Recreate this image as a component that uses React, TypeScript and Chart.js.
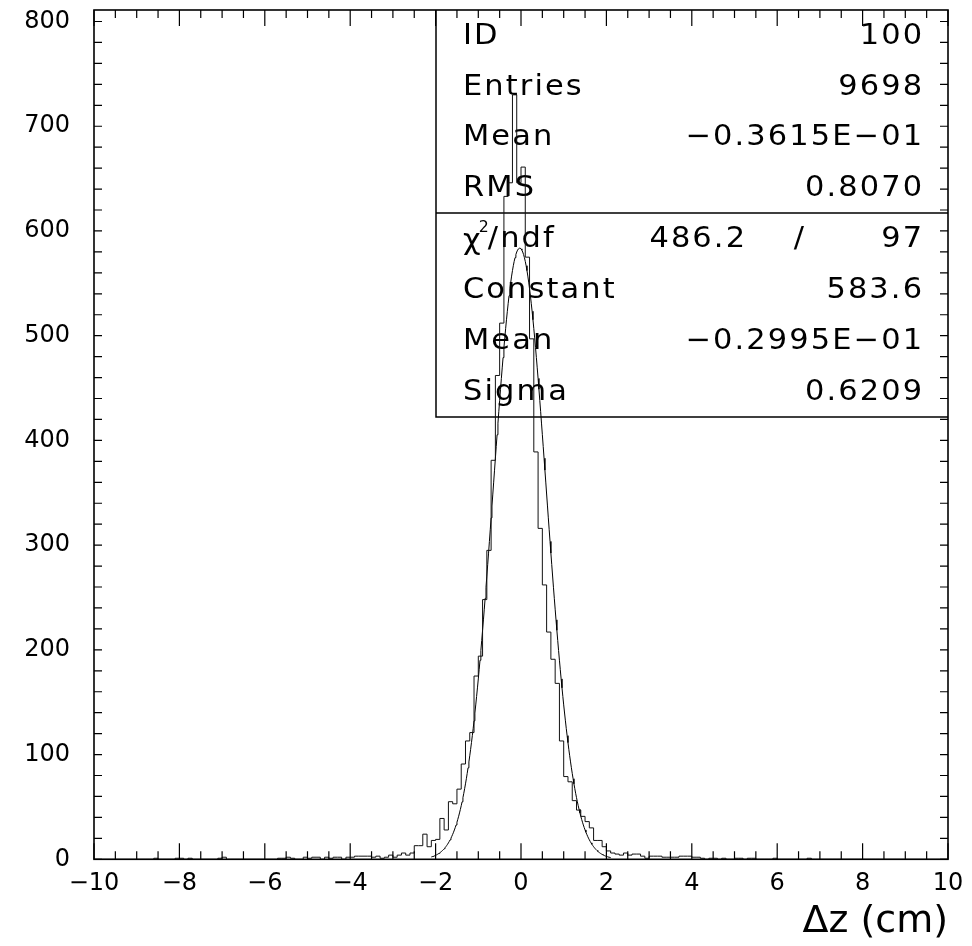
import React, { useEffect, useRef } from "react";
import { Chart, registerables } from "chart.js";

Chart.register(...registerables);

// ---- axes ----
const X_MIN = -10;
const X_MAX = 10;
const Y_MIN = 0;
const Y_MAX = 811;
const X_LABEL_STEP = 2;
const X_MINOR_STEP = 0.5;
const Y_LABEL_STEP = 100;
const Y_MINOR_STEP = 20;
const X_TITLE = "Δz (cm)";

// ---- histogram: 200 bins of 0.1 from -10 to 10 ----
const BIN_START = -10;
const BIN_WIDTH = 0.1;

// bins -10.0 .. -3.1
const leftTailCounts = [
  0, 0, 0, 0, 0, 0, 0, 0, 0, 0,
  0, 0, 0, 0, 0, 1, 0, 0, 0, 0,
  1, 1, 0, 1, 0, 0, 0, 0, 0, 0,
  1, 2, 0, 0, 0, 0, 0, 0, 0, 0,
  0, 0, 0, 0, 1, 1, 2, 1, 0, 0,
  2, 1, 2, 2, 0, 2, 1, 2, 2, 0,
  2, 2, 3, 3, 3, 3, 2, 3, 1, 2,
];
// bins -3.0 .. 2.9
const coreCounts = [
  4, 2, 4, 6, 4, 6, 13, 13, 24, 12,
  18, 19, 39, 28, 55, 53, 67, 91, 113, 121,
  175, 194, 248, 295, 381, 462, 512, 633, 646, 730,
  646, 661, 575, 497, 389, 316, 262, 217, 191, 168,
  113, 79, 74, 56, 47, 41, 36, 30, 18, 18,
  12, 8, 6, 5, 4, 6, 4, 5, 5, 3,
];
// bins 3.0 .. 9.9
const rightTailCounts = [
  1, 3, 3, 3, 2, 2, 2, 2, 3, 3,
  3, 2, 2, 1, 0, 1, 1, 0, 1, 0,
  0, 1, 1, 0, 1, 1, 0, 0, 0, 0,
  1, 0, 0, 0, 0, 0, 0, 0, 1, 0,
  0, 0, 0, 0, 0, 0, 0, 0, 0, 0,
  0, 0, 0, 0, 0, 0, 0, 0, 0, 0,
  0, 0, 0, 0, 0, 0, 0, 0, 0, 0,
];

// ---- Gaussian fit (parameters as printed in the stats box) ----
const FIT_CONSTANT = 583.6;
const FIT_MEAN = -0.02995;
const FIT_SIGMA = 0.6209;
const FIT_FROM = -2.1;
const FIT_TO = 2.1;
const FIT_STEP = 0.02;

// ---- stats box ----
const statLabels = ["ID", "Entries", "Mean", "RMS"];
const statValues = ["100", "9698", "−0.3615E−01", "0.8070"];
const fitLabels = ["chi2", "Constant", "Mean", "Sigma"];
const fitValues = ["97", "583.6", "−0.2995E−01", "0.6209"];
const CHI2_VALUE = "486.2";

const FONT = '"DejaVu Sans", "Liberation Sans", sans-serif';
const BOX_FONT_SIZE = 29;
const BOX_LS = 2;
const BOX_SX = 1.05;

function fmtNum(v: number): string {
  return v < 0 ? "−" + Math.abs(v) : String(v);
}

function drawText(
  ctx: CanvasRenderingContext2D,
  s: string,
  x: number,
  y: number,
  align: CanvasTextAlign,
  size = BOX_FONT_SIZE
) {
  ctx.save();
  ctx.font = `${size}px ${FONT}`;
  (ctx as any).letterSpacing = BOX_LS + "px";
  ctx.textAlign = align;
  ctx.textBaseline = "middle";
  ctx.fillStyle = "#000";
  ctx.translate(align === "right" ? x + BOX_LS * BOX_SX : x, y);
  ctx.scale(BOX_SX, 1);
  ctx.fillText(s, 0, 0);
  ctx.restore();
}

function textWidth(ctx: CanvasRenderingContext2D, s: string, size = BOX_FONT_SIZE) {
  ctx.save();
  ctx.font = `${size}px ${FONT}`;
  (ctx as any).letterSpacing = BOX_LS + "px";
  const w = ctx.measureText(s).width * BOX_SX;
  ctx.restore();
  return w;
}

const pawPlugin = {
  id: "pawDecor",
  beforeDatasetsDraw(chart: any) {
    const { ctx, chartArea } = chart;
    const boxLeft = chartArea.right - 512;
    const boxTop = chartArea.top;
    const boxBottom = chartArea.top + 407;
    const divider = chartArea.top + 203;
    ctx.save();
    ctx.strokeStyle = "#000";
    ctx.lineWidth = 1.5;
    ctx.beginPath();
    ctx.moveTo(boxLeft, boxTop);
    ctx.lineTo(boxLeft, boxBottom);
    ctx.lineTo(chartArea.right, boxBottom);
    ctx.moveTo(boxLeft, divider);
    ctx.lineTo(chartArea.right, divider);
    ctx.stroke();
    ctx.restore();

    const textLeft = boxLeft + 27;
    const textRight = chartArea.right - 26;
    const rowH1 = (divider - boxTop) / statLabels.length;
    statLabels.forEach((lab, i) => {
      const y = boxTop + rowH1 * (i + 0.5) + 1;
      drawText(ctx, lab, textLeft, y, "left");
      drawText(ctx, statValues[i], textRight, y, "right");
    });
    const rowH2 = (boxBottom - divider) / fitLabels.length;
    fitLabels.forEach((lab, i) => {
      const y = divider + rowH2 * (i + 0.5) + 1;
      if (lab === "chi2") {
        let x = textLeft;
        drawText(ctx, "χ", x, y + 2, "left");
        x += textWidth(ctx, "χ") - 4;
        drawText(ctx, "2", x, y - 11, "left", 15);
        x += textWidth(ctx, "2", 15) - 3;
        drawText(ctx, "/ndf", x, y, "left");
        drawText(ctx, CHI2_VALUE, textRight - 177, y, "right");
        drawText(ctx, "/", textRight - 122, y, "center");
        drawText(ctx, fitValues[i], textRight, y, "right");
      } else {
        drawText(ctx, lab, textLeft, y, "left");
        drawText(ctx, fitValues[i], textRight, y, "right");
      }
    });
  },
  afterDatasetsDraw(chart: any) {
    const { ctx, chartArea } = chart;
    const xs = chart.scales.x;
    const ys = chart.scales.y;
    ctx.save();
    ctx.strokeStyle = "#000";
    ctx.lineWidth = 1.2;
    ctx.beginPath();
    const nx = Math.round((xs.max - xs.min) / X_MINOR_STEP);
    for (let k = 0; k <= nx; k++) {
      const v = xs.min + k * X_MINOR_STEP;
      const px = xs.getPixelForValue(v);
      const isMajor = Math.abs(v / X_LABEL_STEP - Math.round(v / X_LABEL_STEP)) < 1e-6;
      const len = isMajor ? 16 : 8;
      ctx.moveTo(px, chartArea.bottom);
      ctx.lineTo(px, chartArea.bottom - len);
      ctx.moveTo(px, chartArea.top);
      ctx.lineTo(px, chartArea.top + len);
    }
    const ny = Math.floor((ys.max - ys.min) / Y_MINOR_STEP);
    for (let k = 0; k <= ny; k++) {
      const v = ys.min + k * Y_MINOR_STEP;
      const py = ys.getPixelForValue(v);
      ctx.moveTo(chartArea.left, py);
      ctx.lineTo(chartArea.left + 8, py);
      ctx.moveTo(chartArea.right, py);
      ctx.lineTo(chartArea.right - 8, py);
    }
    ctx.stroke();
    ctx.lineWidth = 1.6;
    ctx.strokeRect(
      chartArea.left,
      chartArea.top,
      chartArea.right - chartArea.left,
      chartArea.bottom - chartArea.top
    );
    ctx.restore();
  },
};

export default function App() {
  const canvasRef = useRef<HTMLCanvasElement | null>(null);

  useEffect(() => {
    const canvas = canvasRef.current;
    if (!canvas) return;

    const counts = [...leftTailCounts, ...coreCounts, ...rightTailCounts];
    const histPoints: { x: number; y: number }[] = [{ x: BIN_START, y: 0 }];
    counts.forEach((c, i) => {
      histPoints.push({ x: +(BIN_START + i * BIN_WIDTH).toFixed(4), y: c });
    });
    const lastX = +(BIN_START + counts.length * BIN_WIDTH).toFixed(4);
    histPoints.push({ x: lastX, y: counts[counts.length - 1] });
    histPoints.push({ x: lastX, y: 0 });

    const fitPoints: { x: number; y: number }[] = [];
    const nFit = Math.round((FIT_TO - FIT_FROM) / FIT_STEP);
    for (let k = 0; k <= nFit; k++) {
      const x = FIT_FROM + k * FIT_STEP;
      const z = (x - FIT_MEAN) / FIT_SIGMA;
      fitPoints.push({ x, y: FIT_CONSTANT * Math.exp(-0.5 * z * z) });
    }

    const chart = new Chart(canvas, {
      type: "line",
      data: {
        datasets: [
          {
            data: histPoints,
            stepped: "after",
            borderColor: "#111",
            borderWidth: 1,
            pointRadius: 0,
            fill: false,
          },
          {
            data: fitPoints,
            borderColor: "#000",
            borderWidth: 1,
            pointRadius: 0,
            fill: false,
            tension: 0,
          },
        ],
      } as any,
      options: {
        animation: false,
        responsive: false,
        maintainAspectRatio: false,
        devicePixelRatio: 1,
        layout: { padding: { top: 10, right: 24, left: 0, bottom: 0 } },
        plugins: {
          legend: { display: false },
          tooltip: { enabled: false },
          title: { display: false },
        },
        scales: {
          x: {
            type: "linear",
            min: X_MIN,
            max: X_MAX,
            afterFit: (s: any) => {
              s.height = 86.7;
              s.paddingLeft = 0;
              s.paddingRight = 0;
            },
            grid: { display: false, drawTicks: false },
            border: { display: false },
            ticks: {
              stepSize: X_LABEL_STEP,
              autoSkip: false,
              maxRotation: 0,
              padding: 10,
              color: "#000",
              font: { family: FONT, size: 24 },
              callback: (v: any) => fmtNum(Number(v)),
            },
            title: {
              display: true,
              text: X_TITLE,
              align: "end",
              color: "#000",
              font: { family: FONT, size: 38 },
              padding: { top: 0, bottom: 1 },
            },
          },
          y: {
            type: "linear",
            min: Y_MIN,
            max: Y_MAX,
            afterFit: (s: any) => {
              s.width = 94;
              s.paddingTop = 0;
              s.paddingBottom = 0;
            },
            grid: { display: false, drawTicks: false },
            border: { display: false },
            ticks: {
              stepSize: Y_LABEL_STEP,
              includeBounds: false,
              autoSkip: false,
              padding: 24,
              color: "#000",
              font: { family: FONT, size: 24 },
              callback: (v: any) => fmtNum(Number(v)),
            },
          },
        },
      } as any,
      plugins: [pawPlugin],
    });

    return () => chart.destroy();
  }, []);

  return (
    <div
      style={{
        position: "absolute",
        left: 0,
        top: 0,
        width: 972,
        height: 946,
        background: "#fff",
      }}
    >
      <canvas ref={canvasRef} width={972} height={946} />
    </div>
  );
}
